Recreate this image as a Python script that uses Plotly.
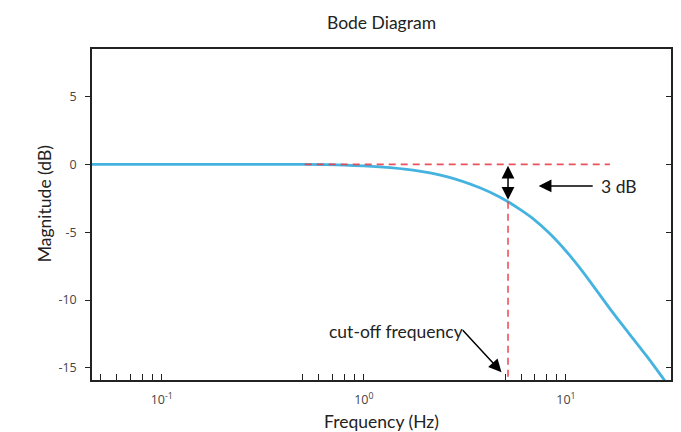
import math
import plotly.graph_objects as go

# ---- data ----
freq_hz = [0.045, 0.1, 0.2, 0.35, 0.5, 0.8, 1.2, 1.75, 2.57, 3.75, 4.7, 5.17,
           5.9, 6.87, 8.31, 10.05, 12.1, 17.1, 25.0, 30.8, 34.0]
magnitude_db = [0, 0, 0, 0, 0, -0.05, -0.18, -0.42, -0.9, -1.72, -2.4, -2.76,
                -3.3, -4.0, -5.1, -6.42, -7.9, -10.95, -14.1, -15.93, -16.8]

cutoff_hz = 5.17
cutoff_db = -2.76
ref_line_hz = [0.51, 16.5]
ref_line_db = [0, 0]

x_range_hz = [0.0452, 33.1]
y_range_db = [-15.89, 8.5]

x_major_ticks = [0.1, 1, 10]
x_major_text = ["10<sup>-1</sup>", "10<sup>0</sup>", "10<sup>1</sup>"]
x_minor_ticks = [0.05, 0.06, 0.07, 0.08, 0.09,
                 0.5, 0.6, 0.7, 0.8, 0.9,
                 5, 6, 7, 8, 9]
y_tick_vals = [-15, -10, -5, 0, 5]
y_tick_text = ["-15", "-10", "-5", "0", "5"]

# annotation anchors (data units)
db3_arrow_tip = (7.33, -1.59)
db3_arrow_tail = (13.8, -1.59)
db3_label = (18.2, -1.6)
cut_arrow_tip = (4.80, -15.31)
cut_arrow_tail = (3.04, -12.11)
cut_label = (1.44, -12.3)

TXT = "Lato"
BLUE = "#45b3e0"
RED = "#e8414c"
L = math.log10

# the page body has an 8px margin; the figure is sized to fill the rest of the window
W, H = 673, 424

fig = go.Figure()
fig.add_trace(go.Scatter(
    x=freq_hz, y=magnitude_db, mode="lines",
    line=dict(color=BLUE, width=2.8, shape="spline", smoothing=0.9),
    hoverinfo="skip", showlegend=False))
fig.add_trace(go.Scatter(
    x=ref_line_hz, y=ref_line_db, mode="lines",
    line=dict(color=RED, width=1.6, dash="7px,5px"), opacity=0.9,
    hoverinfo="skip", showlegend=False))
fig.add_trace(go.Scatter(
    x=[cutoff_hz, cutoff_hz], y=[cutoff_db, y_range_db[0]], mode="lines",
    line=dict(color=RED, width=1.6, dash="7px,5px"), opacity=0.9,
    hoverinfo="skip", showlegend=False))
# invisible trace so the right-side mirror axis renders
fig.add_trace(go.Scatter(x=[cutoff_hz], y=[0], yaxis="y2", mode="markers",
                         marker=dict(opacity=0), hoverinfo="skip", showlegend=False))

arrow_common = dict(showarrow=True, text="", axref="x", ayref="y", xref="x", yref="y",
                    arrowcolor="black", arrowwidth=1.5, arrowhead=2, arrowsize=1.7)
annotations = [
    dict(x=L(cutoff_hz), y=cutoff_db + 0.15, ax=L(cutoff_hz), ay=0,
         arrowside="end+start", startarrowhead=2, startarrowsize=1.7, **arrow_common),
    dict(x=L(db3_arrow_tip[0]), y=db3_arrow_tip[1],
         ax=L(db3_arrow_tail[0]), ay=db3_arrow_tail[1], **arrow_common),
    dict(x=L(cut_arrow_tip[0]), y=cut_arrow_tip[1],
         ax=L(cut_arrow_tail[0]), ay=cut_arrow_tail[1], **arrow_common),
    dict(x=L(db3_label[0]), y=db3_label[1], xref="x", yref="y", text="3 dB",
         showarrow=False, font=dict(family=TXT, size=17.5, color="#222")),
    dict(x=L(cut_label[0]), y=cut_label[1], xref="x", yref="y", text="cut-off frequency",
         showarrow=False, font=dict(family=TXT, size=17.5, color="#222")),
    dict(x=-0.083, y=0.534, xref="paper", yref="paper", text="Magnitude (dB)",
         xanchor="center", yanchor="middle",
         textangle=-90, showarrow=False, font=dict(family=TXT, size=17.5, color="#222")),
]

fig.update_layout(
    width=W, height=H,
    margin=dict(l=84, r=10, t=41, b=52, autoexpand=False),
    paper_bgcolor="white", plot_bgcolor="white",
    title=dict(text="Bode Diagram", x=0.5, xref="paper", y=1 - 15 / H, yref="container",
               yanchor="middle", font=dict(family=TXT, size=17.5, color="#222")),
    xaxis=dict(type="log", range=[L(x_range_hz[0]), L(x_range_hz[1])],
               showline=True, linecolor="#222", linewidth=1.5, mirror=True,
               ticks="inside", ticklen=6, tickwidth=1, tickcolor="#222",
               tickmode="array", tickvals=x_major_ticks, ticktext=x_major_text,
               ticklabelstandoff=7,
               minor=dict(tickmode="array", tickvals=x_minor_ticks, ticks="inside",
                          ticklen=6, tickwidth=1, tickcolor="#222", showgrid=False),
               tickfont=dict(family="Open Sans", size=12.5, color="#444"),
               showgrid=False, zeroline=False, automargin=False,
               title=dict(text="Frequency (Hz)", standoff=11,
                          font=dict(family=TXT, size=17.5, color="#222"))),
    yaxis=dict(range=y_range_db, showline=True, linecolor="#222", linewidth=1.5, mirror=True,
               ticks="outside", ticklen=5, tickwidth=1, tickcolor="#222",
               tickvals=y_tick_vals, ticktext=y_tick_text, ticklabelstandoff=6,
               tickfont=dict(family="Open Sans", size=12.5, color="#444"),
               showgrid=False, zeroline=False, automargin=False),
    yaxis2=dict(range=y_range_db, overlaying="y", side="right", anchor="x",
                ticks="inside", ticklen=5, tickwidth=1, tickcolor="#222",
                tickvals=y_tick_vals, showticklabels=False,
                showgrid=False, zeroline=False, showline=False),
    annotations=annotations,
)

fig.write_html("out.html")
